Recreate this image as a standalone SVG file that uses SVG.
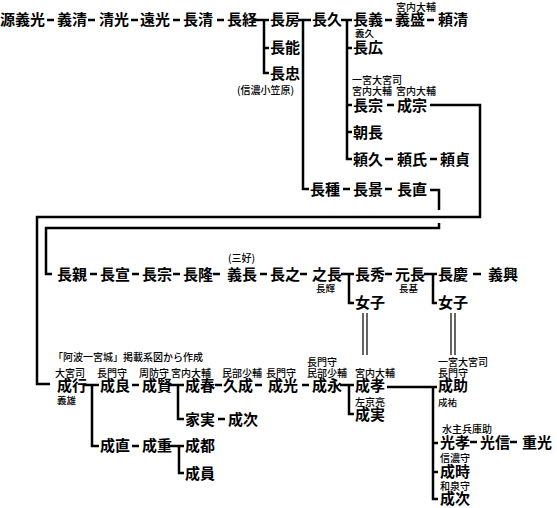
<svg xmlns="http://www.w3.org/2000/svg" width="557" height="508" viewBox="0 0 557 508">
<style>
text{font-family:"Noto Sans CJK JP","Noto Sans CJK SC",sans-serif;fill:#000}
.n{font-size:15px;font-weight:700}
.s{font-size:10px;font-weight:500}
.t{font-size:9.5px;font-weight:500}
.c{stroke:#000;stroke-width:2.5;fill:none}
.d{stroke:#000;stroke-width:1.2;fill:none}
</style>
<rect width="557" height="508" fill="#fff"/>
<g id="connectors">
<path class="c" d="M47 20H54M88 20H95M131 20H138M173 20H180M217 20H224M253 20H269M264 20V73H269M264 48H269M298 20H311M303 20V189H309M341 20H352M347 20V159H352M347 48H352M347 105H352M347 132H352M385 20H392M427 20H434"/>
<path class="c" d="M387 105H394M430 105H480V217H37V384H50"/>
<path class="c" d="M385 159H393M430 159H437M343 189H350M385 189H392"/>
<path class="c" d="M430 190H439V210M439 223V228H46V274H52"/>
<path class="c" d="M90 274H97M132 274H139M173 274H180M213 274H220M260 274H267M300 274H307M341 274H354M349 274V303H354M385 274H392M424 274H437M433 274V303H437M473 274H481"/>
<path class="d" d="M363 313V355M367 313V355M451 313V355M455 313V355"/>
<path class="c" d="M83 385H99M92 385V446H99M132 385H139M168 385H184M178 385V419H184M215 385H222M255 385H262M302 385H309M340 385H354M349 385V414H354M387 387H437M433 387V499H438M433 443H438M433 472H438M218 419H225M132 446H139M168 446H184M179 446V473H184M470 442H477M510 442H517"/>
</g>
<g id="n-yoshimitsu"><text class="n" x="0" y="25">源義光</text></g>
<g id="n-yoshikiyo"><text class="n" x="57" y="25">義清</text></g>
<g id="n-kiyomitsu"><text class="n" x="99" y="25">清光</text></g>
<g id="n-toomitsu"><text class="n" x="140" y="25">遠光</text></g>
<g id="n-nagakiyo"><text class="n" x="183" y="25">長清</text></g>
<g id="n-nagatsune"><text class="n" x="227" y="25">長経</text></g>
<g id="n-nagafusa"><text class="n" x="270" y="25">長房</text></g>
<g id="n-nagayoshi2"><text class="n" x="270" y="53">長能</text></g>
<g id="n-nagatada"><text class="n" x="270" y="79">長忠</text><text class="s" x="237" y="94">(信濃小笠原)</text></g>
<g id="n-nagahisa"><text class="n" x="312" y="25">長久</text></g>
<g id="n-nagayoshi"><text class="n" x="353" y="25">長義</text><text class="t" x="355" y="37">義久</text></g>
<g id="n-yoshimori"><text class="s" x="396" y="11">宮内大輔</text><text class="n" x="395" y="25">義盛</text></g>
<g id="n-yorikiyo"><text class="n" x="438" y="25">頼清</text></g>
<g id="n-nagahiro"><text class="n" x="353" y="53">長広</text></g>
<g id="n-nagamune"><text class="s" x="352" y="84">一宮大宮司</text><text class="s" x="352" y="95">宮内大輔</text><text class="n" x="353" y="111">長宗</text></g>
<g id="n-narimune"><text class="s" x="396" y="95">宮内大輔</text><text class="n" x="397" y="111">成宗</text></g>
<g id="n-tomonaga"><text class="n" x="353" y="138">朝長</text></g>
<g id="n-yorihisa"><text class="n" x="353" y="165">頼久</text></g>
<g id="n-yoriuji"><text class="n" x="397" y="165">頼氏</text></g>
<g id="n-yorisada"><text class="n" x="440" y="165">頼貞</text></g>
<g id="n-nagatane"><text class="n" x="310" y="195">長種</text></g>
<g id="n-nagakage"><text class="n" x="353" y="195">長景</text></g>
<g id="n-naganao"><text class="n" x="397" y="195">長直</text></g>
<g id="n-nagachika"><text class="n" x="57" y="280">長親</text></g>
<g id="n-naganobu"><text class="n" x="100" y="280">長宣</text></g>
<g id="n-nagamune2"><text class="n" x="142" y="280">長宗</text></g>
<g id="n-nagataka"><text class="n" x="183" y="280">長隆</text></g>
<g id="n-yoshinaga"><text class="s" x="228" y="262">(三好)</text><text class="n" x="227" y="280">義長</text></g>
<g id="n-nagayuki"><text class="n" x="270" y="280">長之</text></g>
<g id="n-yukinaga"><text class="n" x="312" y="280">之長</text><text class="t" x="316" y="292">長輝</text></g>
<g id="n-nagahide"><text class="n" x="355" y="280">長秀</text></g>
<g id="n-musume1"><text class="n" x="355" y="308">女子</text></g>
<g id="n-motonaga"><text class="n" x="395" y="280">元長</text><text class="t" x="399" y="292">長基</text></g>
<g id="n-nagayoshi3"><text class="n" x="438" y="280">長慶</text></g>
<g id="n-yoshioki"><text class="n" x="488" y="280">義興</text></g>
<g id="n-musume2"><text class="n" x="438" y="308">女子</text></g>
<g id="note"><text class="s" x="53" y="361">「阿波一宮城」掲載系図から作成</text></g>
<g id="n-nariyuki"><text class="s" x="55" y="377">大宮司</text><text class="n" x="57" y="391">成行</text><text class="t" x="57" y="404">義雄</text></g>
<g id="n-nariyoshi"><text class="s" x="97" y="377">長門守</text><text class="n" x="100" y="391">成良</text></g>
<g id="n-narikata"><text class="s" x="139" y="377">周防守</text><text class="n" x="142" y="391">成賢</text></g>
<g id="n-naruharu"><text class="s" x="171" y="377">宮内大輔</text><text class="n" x="185" y="391">成春</text></g>
<g id="n-hisanari"><text class="s" x="222" y="377">民部少輔</text><text class="n" x="223" y="391">久成</text></g>
<g id="n-narimitsu"><text class="s" x="266" y="377">長門守</text><text class="n" x="268" y="391">成光</text></g>
<g id="n-narinaga"><text class="s" x="307" y="366">長門守</text><text class="s" x="307" y="377">民部少輔</text><text class="n" x="312" y="391">成永</text></g>
<g id="n-naritaka"><text class="s" x="355" y="377">宮内大輔</text><text class="n" x="355" y="391">成孝</text></g>
<g id="n-narizane"><text class="s" x="355" y="406">左京亮</text><text class="n" x="355" y="420">成実</text></g>
<g id="n-narisuke"><text class="s" x="438" y="366">一宮大宮司</text><text class="s" x="438" y="377">長門守</text><text class="n" x="438" y="391">成助</text><text class="t" x="438" y="406">成祐</text></g>
<g id="n-iezane"><text class="n" x="185" y="425">家実</text></g>
<g id="n-naritsugu"><text class="n" x="228" y="425">成次</text></g>
<g id="n-narinao"><text class="n" x="100" y="451">成直</text></g>
<g id="n-narishige"><text class="n" x="142" y="451">成重</text></g>
<g id="n-narito"><text class="n" x="185" y="451">成都</text></g>
<g id="n-narikazu"><text class="n" x="185" y="479">成員</text></g>
<g id="n-mitsutaka"><text class="s" x="442" y="433">水主兵庫助</text><text class="n" x="440" y="448">光孝</text></g>
<g id="n-mitsunobu"><text class="n" x="480" y="448">光信</text></g>
<g id="n-shigemitsu"><text class="n" x="522" y="448">重光</text></g>
<g id="n-naritoki"><text class="s" x="440" y="462">信濃守</text><text class="n" x="440" y="477">成時</text></g>
<g id="n-naritsugu2"><text class="s" x="440" y="490">和泉守</text><text class="n" x="440" y="504">成次</text></g>
</svg>
